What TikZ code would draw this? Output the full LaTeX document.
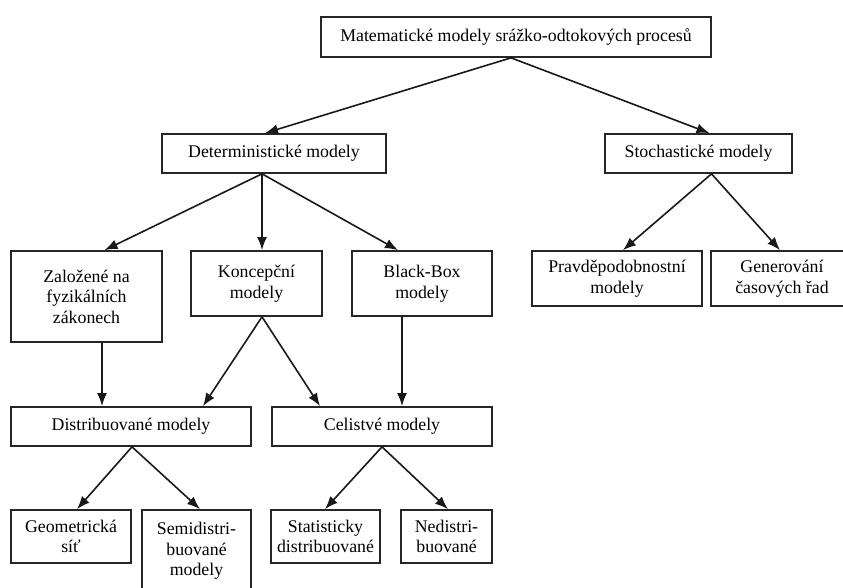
\documentclass[tikz,border=0pt]{standalone}
\usepackage{fontspec}
\setmainfont{Liberation Serif}
\usetikzlibrary{arrows.meta}
\begin{document}
\begin{tikzpicture}[x=1pt,y=-1pt,
  box/.style={draw=black!85,line width=1.7pt,rectangle,inner sep=0pt,align=center,
    font=\fontsize{17.8pt}{20.5pt}\selectfont},
  arr/.style={draw=black!90,line width=1.6pt,-{Latex[length=13pt,width=10pt]}}]
\useasboundingbox (0,0) rectangle (843,588);
\clip (0,0) rectangle (843,588);
\node[box,minimum width=390pt,minimum height=40pt] (top) at (516,37) {Matematické modely srážko-odtokových procesů};
\node[box,minimum width=224pt,minimum height=39pt] (det) at (274,153.5) {Deterministické modely};
\node[box,minimum width=187pt,minimum height=39pt] (sto) at (698.5,153.5) {Stochastické modely};
\node[box,minimum width=151pt,minimum height=91pt] (zal) at (86.5,296.5) {Založené na\\fyzikálních\\zákonech};
\node[box,minimum width=131pt,minimum height=65pt] (kon) at (256.5,283.5) {Koncepční\\modely};
\node[box,minimum width=140pt,minimum height=65pt] (bb) at (422,283.5) {Black-Box\\modely};
\node[box,minimum width=170pt,minimum height=55pt] (pra) at (617,278.5) {Pravděpodobnostní\\modely};
\node[box,minimum width=142pt,minimum height=55pt] (gen) at (782,278.5) {Generování\\časových řad};
\node[box,minimum width=240pt,minimum height=39pt] (dis) at (131,426.5) {Distribuované modely};
\node[box,minimum width=220pt,minimum height=39pt] (cel) at (382,426.5) {Celistvé modely};
\node[box,minimum width=120pt,minimum height=53pt] (geo) at (71,536.5) {Geometrická\\síť};
\node[box,minimum width=109pt,minimum height=82pt] (semi) at (196.5,551) {Semidistri-\\buované\\modely};
\node[box,minimum width=109pt,minimum height=53pt] (stat) at (325.5,536.5) {Statisticky\\distribuované};
\node[box,minimum width=91pt,minimum height=53pt] (ned) at (446.5,536.5) {Nedistri-\\buované};
\draw[arr] ([xshift=-5pt]top.south) -- ([xshift=-9pt]det.north);
\draw[arr] ([xshift=-5pt]top.south) -- ([xshift=11pt]sto.north);
\draw[arr] ([xshift=-12pt]det.south) -- ([xshift=18pt]zal.north);
\draw[arr] ([xshift=-12pt]det.south) -- ([xshift=5.5pt]kon.north);
\draw[arr] ([xshift=-12pt]det.south) -- ([xshift=-24pt]bb.north);
\draw[arr] ([xshift=13pt]sto.south) -- ([xshift=6pt]pra.north);
\draw[arr] ([xshift=13pt]sto.south) -- ([xshift=-2pt]gen.north);
\draw[arr] ([xshift=15.5pt]zal.south) -- ([xshift=-29pt]dis.north);
\draw[arr] ([xshift=5.5pt]kon.south) -- ([xshift=72pt]dis.north);
\draw[arr] ([xshift=5.5pt]kon.south) -- ([xshift=-62pt]cel.north);
\draw[arr] ([xshift=-20pt]bb.south) -- ([xshift=20pt]cel.north);
\draw[arr] ([xshift=1pt]dis.south) -- ([xshift=6pt]geo.north);
\draw[arr] ([xshift=1pt]dis.south) -- ([xshift=3.5pt]semi.north);
\draw[arr] (cel.south) -- ([xshift=-0.5pt]stat.north);
\draw[arr] (cel.south) -- ([xshift=1.5pt]ned.north);
\end{tikzpicture}
\end{document}
